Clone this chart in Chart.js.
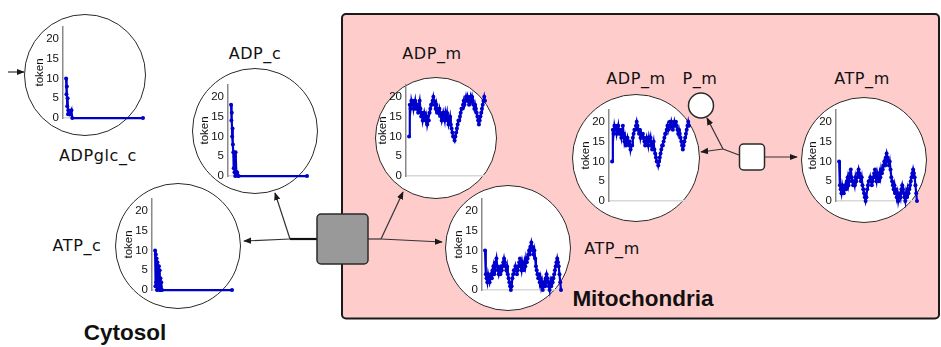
<!DOCTYPE html>
<html>
<head>
<meta charset="utf-8">
<script src="https://cdn.jsdelivr.net/npm/chart.js@4.4.1/dist/chart.umd.min.js"></script>
<style>
  html, body { margin: 0; padding: 0; background: #fff; }
  #stage { position: relative; width: 941px; height: 347px; overflow: hidden; }
  #net { position: absolute; left: 0; top: 0; }
  .place { position: absolute; box-sizing: border-box; border: 1.5px solid #2a2a2a; border-radius: 50%; background: #fff; }
  .plot { position: absolute; }
  .lbl { position: absolute; transform: translate(-50%, -50%); white-space: nowrap; line-height: 1;
         font: 16px "DejaVu Sans", sans-serif; letter-spacing: 0.6px; color: #111; }
  .area { font: bold 22.5px "Liberation Sans", Arial, sans-serif; letter-spacing: 0; }
</style>
</head>
<body>
<div id="stage">
<svg id="net" width="941" height="347">
  <defs>
    <marker id="ah" viewBox="0 0 10 10" refX="9" refY="5" markerWidth="8" markerHeight="8"
            markerUnits="userSpaceOnUse" orient="auto">
      <path d="M0,1 L10,5 L0,9 z" fill="#1a1a1a"/>
    </marker>
  </defs>
  <!-- compartment -->
  <rect x="342" y="14" width="597" height="304.5" rx="4" fill="#ffcccc" stroke="#1a1a1a" stroke-width="2"/>
  <!-- arcs -->
  <g stroke="#333" stroke-width="1.2" fill="none">
    <line x1="8" y1="72" x2="24" y2="72" marker-end="url(#ah)"/>
    <line x1="290" y1="239" x2="244" y2="241" marker-end="url(#ah)"/>
    <line x1="290" y1="239" x2="275" y2="193" marker-end="url(#ah)"/>
    <line x1="368" y1="239" x2="381" y2="239"/>
    <line x1="381" y1="239" x2="403" y2="192" marker-end="url(#ah)"/>
    <line x1="381" y1="239" x2="442" y2="242" marker-end="url(#ah)"/>
    <line x1="739" y1="155" x2="723" y2="149"/>
    <line x1="723" y1="149" x2="701" y2="152" marker-end="url(#ah)"/>
    <line x1="723" y1="149" x2="707" y2="118" marker-end="url(#ah)"/>
    <line x1="764" y1="157" x2="797" y2="157" marker-end="url(#ah)"/>
  </g>
  <line x1="290" y1="239" x2="317" y2="239" stroke="#111" stroke-width="2.2"/>
  <!-- transitions -->
  <rect x="317" y="214" width="51" height="50" rx="4" fill="#999" stroke="#2a2a2a" stroke-width="1.5"/>
  <rect x="739.5" y="144" width="25" height="26" rx="4" fill="#fff" stroke="#2a2a2a" stroke-width="1.5"/>
  <!-- P_m place -->
  <circle cx="701" cy="105.5" r="12.5" fill="#fff" stroke="#2a2a2a" stroke-width="1.5"/>
</svg>
</div>
<script>
// y axis
const yTicks = [0, 5, 10, 15, 20];

// simulation time steps for the mitochondrial places
const timeSteps = [0,1,2,3,4,5,6,7,8,9,10,11,12,13,14,15,16,17,18,19,20,21,22,23,24,25,26,27,28,29,
  30,31,32,33,34,35,36,37,38,39,40,41,42,43,44,45,46,47,48,49,50,51,52,53,54,55,56,57,58,59,
  60,61,62,63,64,65,66,67,68,69,70,71,72,73,74,75,76,77,78,79,80,81,82,83,84,85,86,87,88,89,
  90,91,92,93,94,95,96,97,98,99,100];

const adpMValues = [10,18,17,19,18,19,17,18,19,17, 18,17,16,18,19,17,15,16,14,15,
  16,15,14,15,13,14,14,16,17,18, 18,19,20,19,18,17,18,16,17,16,
  17,16,15,14,15,16,15,14,16,15, 16,14,13,14,15,13,12,11,10,10,
  9,10,11,12,13,14,14,15,16,17, 17,18,19,18,19,20,19,20,19,18,
  19,20,19,20,19,18,17,18,17,16, 15,14,13,14,15,16,17,18,19,20, 19];

const atpMValues = [10,4,3,2,4,3,2,3,4,3, 5,6,4,5,7,8,6,5,4,5,
  4,6,5,6,7,8,7,6,5,6, 4,3,2,1,0,1,3,4,5,5,
  6,5,4,5,6,7,8,6,5,7, 6,5,7,6,8,7,8,9,10,9,
  11,12,11,10,9,10,8,6,5,4, 3,4,2,3,1,2,0,1,2,1,
  3,4,3,2,1,0,2,1,3,2, 3,4,5,6,7,8,7,6,4,2, 0];

// cytosolic places: fast drain at the start, then empty
const adpglcTimes  = [0, 0.5, 1, 1.5, 2, 2.5, 3, 5, 7, 8, 100];
const adpglcValues = [10, 6, 8, 3, 5, 1, 2, 1, 2, 0, 0];

const adpCTimes  = [0, 0.5, 1, 1.5, 2, 2.5, 3, 3.5, 4, 4.5, 5, 5.5, 6, 7, 8, 9, 10, 100];
const adpCValues = [18, 14, 16, 10, 12, 8, 6, 2, 6, 1, 5, 0, 6, 1, 1, 0, 0, 0];

const atpCTimes  = [0, 0.5, 1, 1.5, 2, 2.5, 3, 3.5, 4, 4.5, 5, 5.5, 6, 6.5, 7, 7.5, 8, 9, 100];
const atpCValues = [10, 1, 9, 2, 8, 0, 7, 1, 6, 2, 6, 0, 5, 1, 3, 0, 2, 0, 0];

// where each place sits in the net
const places = [
  { times: adpglcTimes, values: adpglcValues, cx: 84.5,  cy: 75,    r: 61, axisX: 63,  y0: 121, xEnd: 143 },
  { times: adpCTimes,   values: adpCValues,   cx: 255,   cy: 131,   r: 63, axisX: 228, y0: 179, xEnd: 307 },
  { times: timeSteps,   values: adpMValues,   cx: 435.5, cy: 137.5, r: 61, axisX: 406, y0: 179, xEnd: 485 },
  { times: timeSteps,   values: adpMValues,   cx: 635.5, cy: 157.5, r: 64, axisX: 609, y0: 204, xEnd: 689 },
  { times: timeSteps,   values: atpMValues,   cx: 863.5, cy: 160,   r: 63, axisX: 836, y0: 204, xEnd: 917 },
  { times: timeSteps,   values: atpMValues,   cx: 508,   cy: 247.5, r: 63, axisX: 482, y0: 293, xEnd: 561 },
  { times: atpCTimes,   values: atpCValues,   cx: 178,   cy: 246,   r: 63, axisX: 152, y0: 293, xEnd: 232 }
];

const labels = [
  { text: 'ADPglc_c', x: 98,  y: 155 },
  { text: 'ADP_c',    x: 255, y: 53 },
  { text: 'ADP_m',    x: 432, y: 53 },
  { text: 'ADP_m',    x: 636, y: 78 },
  { text: 'P_m',      x: 700, y: 78 },
  { text: 'ATP_m',    x: 862, y: 78 },
  { text: 'ATP_m',    x: 612, y: 248 },
  { text: 'ATP_c',    x: 77,  y: 245 },
  { text: 'Cytosol',      x: 125, y: 333, cls: 'area' },
  { text: 'Mitochondria', x: 643, y: 299, cls: 'area' }
];

const stage = document.getElementById('stage');
const blue = '#0000cc';
const tickFont = { family: 'Liberation Sans', size: 11.5 };

places.forEach(p => {
  const c = document.createElement('div');
  c.className = 'place';
  c.style.left = (p.cx - p.r) + 'px';
  c.style.top = (p.cy - p.r) + 'px';
  c.style.width = (2 * p.r) + 'px';
  c.style.height = (2 * p.r) + 'px';
  stage.appendChild(c);
});

places.forEach(p => {
  const canvas = document.createElement('canvas');
  canvas.className = 'plot';
  const w = Math.round(p.xEnd - p.axisX) + 34;
  canvas.width = w;
  canvas.height = 113;
  canvas.style.width = w + 'px';
  canvas.style.height = '113px';
  canvas.style.left = (p.axisX - 30) + 'px';
  canvas.style.top = (p.y0 - 105) + 'px';
  stage.appendChild(canvas);

  new Chart(canvas, {
    type: 'line',
    data: {
      datasets: [{
        data: p.times.map((t, i) => ({ x: t, y: p.values[i] })),
        borderColor: blue,
        backgroundColor: blue,
        borderWidth: 2.2,
        pointRadius: 2,
        pointBorderWidth: 0,
        tension: 0,
        clip: false
      }]
    },
    options: {
      responsive: false,
      animation: false,
      events: [],
      layout: { padding: { top: 8.4, bottom: 8, left: 0, right: 4 } },
      plugins: { legend: { display: false }, tooltip: { enabled: false } },
      scales: {
        x: {
          type: 'linear', min: -4, max: 100,
          ticks: { display: false },
          grid: { display: false, drawTicks: false },
          border: { color: '#d8d8d8', width: 1.5 },
          afterFit: s => { s.height = 0; }
        },
        y: {
          min: 0, max: 23,
          afterBuildTicks: s => { s.ticks = yTicks.map(v => ({ value: v })); },
          ticks: { font: tickFont, color: '#111', padding: 4 },
          grid: { display: false, drawTicks: false },
          border: { color: '#8a8a8a', width: 1.5 },
          title: { display: true, text: 'token', font: tickFont, color: '#111', padding: 0 },
          afterFit: s => { s.width = 30; }
        }
      }
    }
  });
});

labels.forEach(l => {
  const d = document.createElement('div');
  d.className = 'lbl' + (l.cls ? ' ' + l.cls : '');
  d.textContent = l.text;
  d.style.left = l.x + 'px';
  d.style.top = l.y + 'px';
  stage.appendChild(d);
});
</script>
</body>
</html>
